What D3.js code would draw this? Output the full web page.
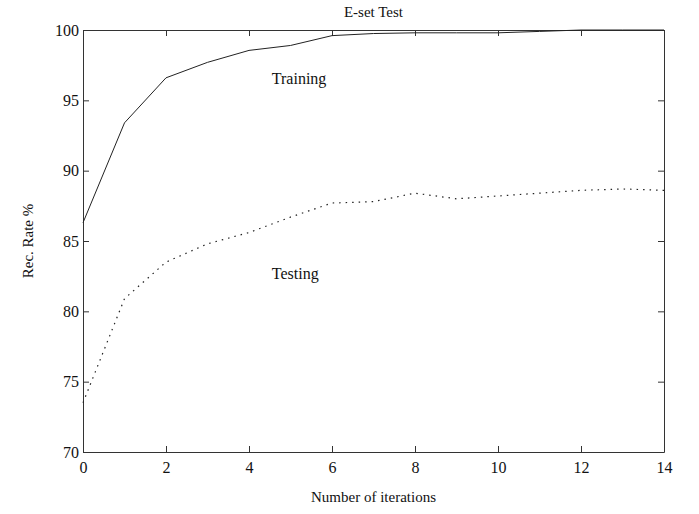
<!DOCTYPE html>
<html>
<head>
<meta charset="utf-8">
<script src="https://cdn.jsdelivr.net/npm/d3@7"></script>
<style>
  body { margin: 0; background: #fff; }
  svg text { font-family: "Liberation Serif", "DejaVu Serif", serif; fill: #111; }
</style>
</head>
<body>
<div id="chart"></div>
<script>
// Chart size and plot frame
const width = 699;
const height = 514;
const margin = { top: 30, right: 35, bottom: 62, left: 83 };

// Data
const iterations = [0, 1, 2, 3, 4, 5, 6, 7, 8, 9, 10, 11, 12, 13, 14];
const training = [86.3, 93.4, 96.6, 97.7, 98.55, 98.9, 99.6, 99.75, 99.8, 99.8, 99.8, 99.9, 100, 100, 100];
const testing = [73.5, 80.9, 83.5, 84.8, 85.6, 86.7, 87.7, 87.8, 88.4, 88.0, 88.2, 88.4, 88.6, 88.7, 88.6];
const xTicks = [0, 2, 4, 6, 8, 10, 12, 14];
const yTicks = [70, 75, 80, 85, 90, 95, 100];

const x = d3.scaleLinear().domain([0, 14]).range([margin.left, width - margin.right]);
const y = d3.scaleLinear().domain([70, 100]).range([height - margin.bottom, margin.top]);

const svg = d3.select('#chart').append('svg')
    .attr('width', width)
    .attr('height', height);

// Axes with inward ticks on all four sides
const tickLen = 6;
const axisBottomG = svg.append('g')
    .attr('transform', `translate(0, ${y(70)})`)
    .call(d3.axisBottom(x).tickValues(xTicks).tickSizeInner(-tickLen).tickSizeOuter(0).tickPadding(10));
const axisLeftG = svg.append('g')
    .attr('transform', `translate(${x(0)}, 0)`)
    .call(d3.axisLeft(y).tickValues(yTicks).tickSizeInner(-tickLen).tickSizeOuter(0).tickPadding(4));
const axisTopG = svg.append('g')
    .attr('transform', `translate(0, ${y(100)})`)
    .call(d3.axisTop(x).tickValues(xTicks).tickSizeInner(-tickLen).tickSizeOuter(0).tickFormat(''));
const axisRightG = svg.append('g')
    .attr('transform', `translate(${x(14)}, 0)`)
    .call(d3.axisRight(y).tickValues(yTicks).tickSizeInner(-tickLen).tickSizeOuter(0).tickFormat(''));

[axisBottomG, axisLeftG, axisTopG, axisRightG].forEach(g => {
    g.selectAll('path, line').attr('stroke', '#333').attr('stroke-width', 1);
    g.selectAll('text').attr('font-size', 16).attr('font-family', '"Liberation Serif", serif');
});

// Lines
const line = d3.line()
    .x((d, i) => x(iterations[i]))
    .y(d => y(d));

svg.append('path')
    .datum(training)
    .attr('fill', 'none')
    .attr('stroke', '#222')
    .attr('stroke-width', 1)
    .attr('d', line);

svg.append('path')
    .datum(testing)
    .attr('fill', 'none')
    .attr('stroke', '#222')
    .attr('stroke-width', 1.2)
    .attr('stroke-dasharray', '1.5,5')
    .attr('d', line);

// Curve labels
svg.append('text')
    .attr('x', x(4.55))
    .attr('y', y(96.15))
    .attr('font-size', 16)
    .text('Training');

svg.append('text')
    .attr('x', x(4.55))
    .attr('y', y(82.3))
    .attr('font-size', 16)
    .text('Testing');

// Title and axis labels
svg.append('text')
    .attr('x', x(7))
    .attr('y', 17)
    .attr('text-anchor', 'middle')
    .attr('font-size', 15)
    .text('E-set Test');

svg.append('text')
    .attr('x', x(7))
    .attr('y', 502)
    .attr('text-anchor', 'middle')
    .attr('font-size', 15)
    .text('Number of iterations');

svg.append('text')
    .attr('transform', `translate(33, ${y(85)}) rotate(-90)`)
    .attr('text-anchor', 'middle')
    .attr('font-size', 15)
    .text('Rec. Rate %');
</script>
</body>
</html>
